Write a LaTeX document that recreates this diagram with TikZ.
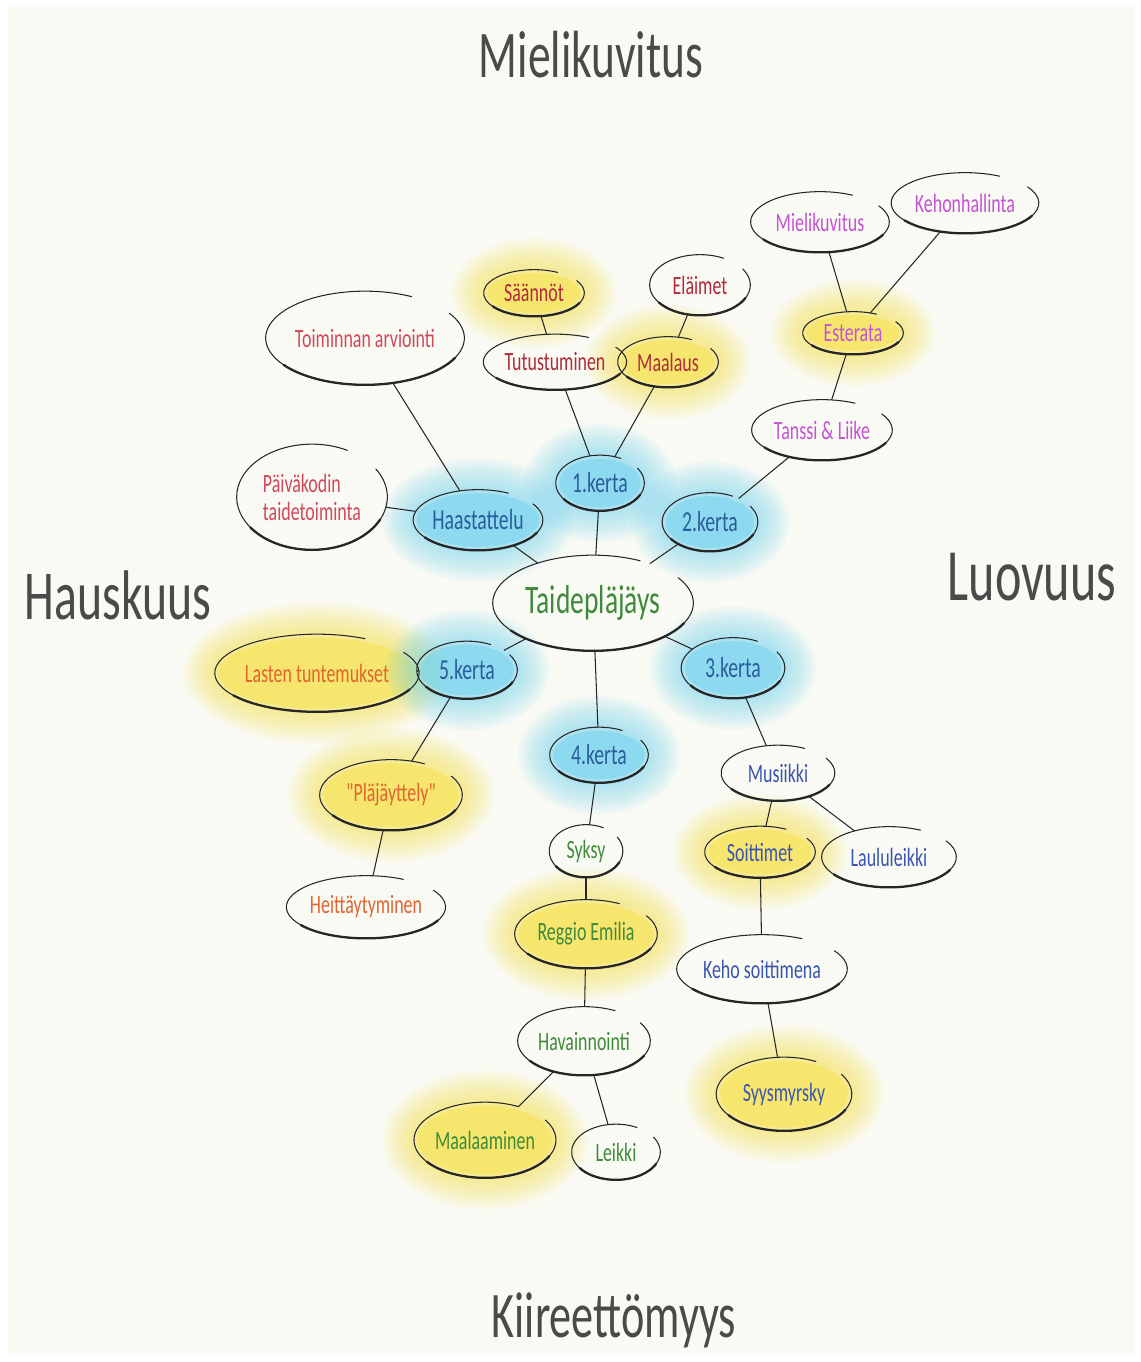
\documentclass[tikz,border=0pt]{standalone}
\usepackage{fontspec}
\setmainfont[FakeStretch=0.68]{Carlito}
\newfontfamily\plainfont[FakeStretch=0.68]{Carlito}
\usetikzlibrary{shapes.geometric,calc,backgrounds}

\definecolor{paper}{HTML}{FAFAF5}
\definecolor{ink}{HTML}{262626}
\definecolor{gy}{HTML}{F6E34E}
\definecolor{gc}{HTML}{74D5F0}
\definecolor{titlegray}{HTML}{4A4A4A}
\definecolor{tgreen}{HTML}{3F8A3A}
\definecolor{kblue}{HTML}{2A5D9C}
\definecolor{trose}{HTML}{D0485A}
\definecolor{tcrimson}{HTML}{B02A3A}
\definecolor{tmagenta}{HTML}{C453D4}
\definecolor{torange}{HTML}{E0652F}
\definecolor{tblue}{HTML}{3A55B0}

\tikzset{
  bubble/.style={ellipse, inner sep=0pt, font=\fontsize{15}{16}\selectfont},
  kerta/.style={bubble, text=kblue, font=\fontsize{16.5}{18}\selectfont},
  title/.style={text=titlegray, font=\fontsize{38}{40}\selectfont},
  link/.style={draw=ink, line width=0.6pt},
  rim/.style={draw=ink, line width=0.6pt, line cap=round},
  rimthick/.style={draw=ink, line width=1.3pt, line cap=round},
}

\begin{document}
\begin{tikzpicture}[x=0.02cm, y=-0.02cm]
  \useasboundingbox (0,0) rectangle (1141,1362);

  % titles
  \node[title] (tnorth) at (591,55)   {Mielikuvitus};
  \node[title, font=\fontsize{40}{42}\selectfont] (twest) at (118,595) {Hauskuus};
  \node[title, font=\fontsize{42}{44}\selectfont] (teast) at (1032,577) {Luovuus};
  \node[title, font=\fontsize{37}{39}\selectfont] (tsouth) at (614,1320) {Kiireettömyys};

  % centre and sessions
  \node[bubble, minimum width=4cm, minimum height=1.9cm, text=tgreen,
        font=\fontsize{23}{25}\selectfont] (tp) at (593,603) {Taidepläjäys};
  \node[kerta, minimum width=1.76cm, minimum height=1.1cm]  (k1)    at (600,483) {1.kerta};
  \node[kerta, minimum width=1.9cm,  minimum height=1.16cm] (k2)    at (710,522) {2.kerta};
  \node[kerta, minimum width=2.06cm, minimum height=1.2cm]  (k3)    at (733,668) {3.kerta};
  \node[kerta, minimum width=1.96cm, minimum height=1.1cm]  (k4)    at (599,755) {4.kerta};
  \node[kerta, minimum width=2.0cm,  minimum height=1.14cm] (k5)    at (467,670) {5.kerta};
  \node[kerta, minimum width=2.46cm, minimum height=1.2cm]  (haast) at (478,520) {Haastattelu};

  % interview
  \node[bubble, minimum width=3.0cm, minimum height=2.1cm, text=trose, align=left] (paiv) at (312,497) {Päiväkodin\\taidetoiminta};
  \node[bubble, minimum width=3.9cm, minimum height=1.86cm, text=trose] (toim) at (365,338) {Toiminnan arviointi};

  % session 1
  \node[bubble, minimum width=2.0cm, minimum height=0.92cm, text=tcrimson] (saan) at (534,293) {Säännöt};
  \node[bubble, minimum width=2.7cm, minimum height=1.1cm,  text=tcrimson] (tutu) at (555,362) {Tutustuminen};
  \node[bubble, minimum width=2.0cm, minimum height=1.0cm,  text=tcrimson] (maal) at (668,362) {Maalaus};
  \node[bubble, minimum width=2.0cm, minimum height=1.2cm,  text=tcrimson] (elai) at (700,285) {Eläimet};

  % session 2
  \node[bubble, minimum width=2.76cm, minimum height=1.2cm,  text=tmagenta] (mieli)  at (820,222) {Mielikuvitus};
  \node[bubble, minimum width=2.94cm, minimum height=1.2cm,  text=tmagenta] (kehon)  at (965,203) {Kehonhallinta};
  \node[bubble, minimum width=2.0cm,  minimum height=0.84cm, text=tmagenta] (ester)  at (853,333) {Esterata};
  \node[bubble, minimum width=2.8cm,  minimum height=1.2cm,  text=tmagenta] (tanssi) at (822,430) {Tanssi \& Liike};

  % session 3
  \node[bubble, minimum width=2.26cm, minimum height=1.1cm,  text=tblue] (musi)  at (778,773)  {Musiikki};
  \node[bubble, minimum width=2.2cm,  minimum height=1.02cm, text=tblue] (soit)  at (760,852)  {Soittimet};
  \node[bubble, minimum width=2.68cm, minimum height=1.2cm,  text=tblue] (laulu) at (889,857)  {Laululeikki};
  \node[bubble, minimum width=3.4cm,  minimum height=1.36cm, text=tblue] (keho)  at (762,969)  {Keho soittimena};
  \node[bubble, minimum width=2.7cm,  minimum height=1.46cm, text=tblue] (syys)  at (784,1094) {Syysmyrsky};

  % session 4
  \node[bubble, minimum width=1.46cm, minimum height=1.04cm, text=tgreen] (syksy)   at (586,851)  {Syksy};
  \node[bubble, minimum width=2.84cm, minimum height=1.36cm, text=tgreen] (reggio)  at (586,934)  {Reggio Emilia};
  \node[bubble, minimum width=2.64cm, minimum height=1.36cm, text=tgreen] (hav)     at (584,1041) {Havainnointi};
  \node[bubble, minimum width=2.8cm,  minimum height=1.5cm,  text=tgreen] (maalaam) at (485,1140) {Maalaaminen};
  \node[bubble, minimum width=1.76cm, minimum height=1.1cm,  text=tgreen] (leikki)  at (616,1152) {Leikki};

  % session 5
  \node[bubble, minimum width=3.8cm,  minimum height=1.54cm, text=torange] (lasten) at (317,673) {Lasten tuntemukset};
  \node[bubble, minimum width=2.84cm, minimum height=1.4cm,  text=torange] (plaj)   at (391,795) {\plainfont "Pläjäyttely"};
  \node[bubble, minimum width=3.16cm, minimum height=1.24cm, text=torange] (heitt)  at (366,907) {Heittäytyminen};

  % hand drawn rims
  \foreach \nd in {tp,k1,k2,k3,k4,k5,haast,paiv,toim,saan,tutu,maal,elai,mieli,kehon,ester,tanssi,
                   musi,soit,laulu,keho,syys,syksy,reggio,hav,maalaam,leikki,lasten,plaj,heitt}{
    \draw[rim] let \p1=(\nd.east), \p2=(\nd.north), \p3=(\nd.center), \n1={\x1-\x3}, \n2={\y2-\y3} in
      ($(\p3)+(62:\n1 and \n2)$) arc[start angle=62, end angle=392, x radius=\n1, y radius=\n2];
    \draw[rimthick] let \p1=(\nd.east), \p2=(\nd.north), \p3=(\nd.center), \n1={\x1-\x3}, \n2={\y2-\y3} in
      ($(\p3)+(215:\n1 and \n2)$) arc[start angle=215, end angle=335, x radius=\n1, y radius=\n2];
  }

  % links
  \draw[link] (tp) -- (k1);
  \draw[link] (tp) -- (k2);
  \draw[link] (tp) -- (k3);
  \draw[link] (tp) -- (k4);
  \draw[link] (tp) -- (k5);
  \draw[link] (tp) -- (haast);
  \draw[link] (haast) -- (toim);
  \draw[link] (haast) -- (paiv);
  \draw[link] (k1) -- (tutu);
  \draw[link] (k1) -- (maal);
  \draw[link] (tutu) -- (saan);
  \draw[link] (maal) -- (elai);
  \draw[link] (k2) -- (tanssi);
  \draw[link] (tanssi) -- (ester);
  \draw[link] (ester) -- (mieli);
  \draw[link] (ester) -- (kehon);
  \draw[link] (k3) -- (musi);
  \draw[link] (musi) -- (soit);
  \draw[link] (musi) -- (laulu);
  \draw[link] (soit) -- (keho);
  \draw[link] (keho) -- (syys);
  \draw[link] (k4) -- (syksy);
  \draw[link] (syksy) -- (reggio);
  \draw[link] (reggio) -- (hav);
  \draw[link] (hav) -- (maalaam);
  \draw[link] (hav) -- (leikki);
  \draw[link] (k5) -- (lasten);
  \draw[link] (k5) -- (plaj);
  \draw[link] (plaj) -- (heitt);

  % paper and glows
  \begin{scope}[on background layer]
    \fill[paper] (8,7) rectangle (1135,1355);
    \foreach \nd/\gl in {saan/gy,maal/gy,ester/gy,lasten/gy,plaj/gy,reggio/gy,maalaam/gy,soit/gy,syys/gy,
                         k1/gc,k2/gc,k3/gc,k4/gc,k5/gc,haast/gc}{
      \foreach \r in {18,16,...,0}{
        \fill[\gl, fill opacity=.08] let \p1=(\nd.east), \p2=(\nd.north), \p3=(\nd.center) in
          (\p3) ellipse[x radius={\x1-\x3+\r pt}, y radius={\y2-\y3+\r pt}];
      }
      \fill[\gl, fill opacity=.55] let \p1=(\nd.east), \p2=(\nd.north), \p3=(\nd.center) in
        (\p3) ellipse[x radius={\x1-\x3-2pt}, y radius={\y2-\y3-2pt}];
    }
  \end{scope}
\end{tikzpicture}
\end{document}
